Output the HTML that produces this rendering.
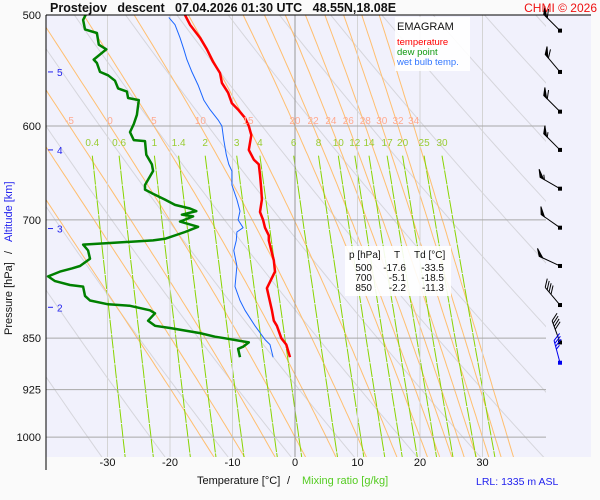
<!DOCTYPE html>
<html><head><meta charset="utf-8"><style>
body{margin:0;background:#fafafa;}
svg{display:block;font-family:"Liberation Sans",sans-serif;}
</style></head><body>
<svg id="chart" width="600" height="500" viewBox="0 0 600 500" xmlns="http://www.w3.org/2000/svg">
<defs><clipPath id="plotclip"><rect x="46" y="15" width="500" height="442"/></clipPath></defs>
<rect x="46" y="15" width="545" height="442" fill="#f1f1fc"/>
<g id="bg" clip-path="url(#plotclip)"></g>
<g id="grid"></g>
<g id="profiles" clip-path="url(#plotclip)"></g>
<g id="labels"></g>
<g id="winds"></g>
<line x1="46" y1="15" x2="46" y2="470" stroke="#000" stroke-width="1"/>
<line x1="46" y1="15" x2="591" y2="15" stroke="#000" stroke-width="1"/>
<text x="50" y="12" font-size="12.5" font-weight="bold" fill="#111" xml:space="preserve">Prostejov   descent   07.04.2026 01:30 UTC   48.55N,18.08E</text>
<text x="597" y="12" font-size="12" fill="#ee1111" text-anchor="end">CHMI © 2026</text>
<g>
<rect x="395" y="17" width="75" height="54" fill="#fff" opacity="0.9"/>
<text x="397" y="30" font-size="11" fill="#111">EMAGRAM</text>
<text x="397" y="45" font-size="9.5" fill="#ff0000">temperature</text>
<text x="397" y="55" font-size="9.5" fill="#119911">dew point</text>
<text x="397" y="65" font-size="9.5" fill="#3377ff">wet bulb temp.</text>
</g>
<g font-size="10" fill="#111">
<rect x="345" y="246" width="106" height="50" fill="#fff" opacity="0.9"/>
<text x="349" y="258">p [hPa]</text><text x="397" y="258" text-anchor="middle">T</text><text x="414" y="258">Td [°C]</text>
<text x="372" y="271" text-anchor="end">500</text><text x="406" y="271" text-anchor="end">-17.6</text><text x="444" y="271" text-anchor="end">-33.5</text>
<text x="372" y="281" text-anchor="end">700</text><text x="406" y="281" text-anchor="end">-5.1</text><text x="444" y="281" text-anchor="end">-18.5</text>
<text x="372" y="291" text-anchor="end">850</text><text x="406" y="291" text-anchor="end">-2.2</text><text x="444" y="291" text-anchor="end">-11.3</text>
</g>
<g font-size="11">
<text x="197" y="484" fill="#111">Temperature [°C]</text>
<text x="287" y="484" fill="#111">/</text>
<text x="302" y="484" fill="#55cc22">Mixing ratio [g/kg]</text>
</g>
<g font-size="11" transform="translate(12,260) rotate(-90)">
<text x="-75" y="0" fill="#111">Pressure [hPa]</text>
<text x="6" y="0" fill="#111">/</text>
<text x="18" y="0" fill="#2222ee">Altitude [km]</text>
</g>
<text x="476" y="485" font-size="10.5" fill="#2222ee">LRL: 1335 m ASL</text>
</svg>
<script>
// ---- data ----
const tempP = [500,508,519,529,540,550,559,568,578,584,592,600,609,624,634,639,650,666,677,691,700,709,718,724,736,748,762,783,812,826,833,850,859,877];
const tempT = [-17.6,-16.8,-15.2,-14.1,-13.1,-12.0,-11.7,-10.7,-10.1,-9.1,-8.0,-7.4,-7.0,-7.4,-6.6,-5.8,-5.6,-5.4,-5.3,-5.6,-5.1,-4.8,-4.2,-4.2,-3.8,-3.4,-3.2,-4.5,-3.7,-3.4,-2.9,-2.2,-1.4,-0.8];
const dewP = [500,504,512,515,525,529,538,541,549,552,557,564,567,573,575,589,598,606,614,615,629,639,646,661,666,670,677,683,687,690,694,696,702,708,714,722,724,727,729,736,746,755,758,762,768,774,779,781,793,799,804,806,812,816,826,833,836,843,848,850,856,862,865,877];
const dewT = [-33.5,-33.9,-33.6,-31.7,-31.4,-30.2,-32.2,-31.7,-31.2,-29.9,-28.8,-28.3,-26.9,-26.7,-25.0,-25.3,-25.8,-26.4,-25.8,-24.0,-23.8,-22.9,-22.7,-24.0,-24.0,-22.9,-20.8,-19.2,-16.8,-15.8,-18.1,-16.3,-18.4,-15.5,-17.6,-20.8,-22.7,-29.6,-33.9,-33.1,-32.8,-34.4,-35.7,-37.6,-39.5,-38.4,-36.0,-33.9,-33.6,-32.8,-29.9,-26.4,-23.2,-22.4,-23.5,-22.4,-20.0,-15.2,-12.8,-11.3,-7.4,-8.3,-9.1,-8.8];
const wbP = [502,508,519,529,538,549,561,575,584,594,600,614,629,639,646,661,677,690,700,709,714,724,736,755,781,799,812,833,852,859,877];
const wbT = [-20.2,-19.2,-18.4,-17.8,-17.3,-16.5,-15.5,-14.6,-13.6,-12.3,-11.7,-11.4,-11.0,-10.6,-10.1,-10.1,-9.3,-8.8,-9.1,-8.3,-9.3,-9.4,-9.8,-9.3,-9.6,-8.8,-8.0,-6.4,-4.8,-4.0,-3.5];
const windP = [513,549,586,624,665,709,755,805,856];
const windDir = [315,320,315,315,300,305,295,320,340];
const windSpd = [60,60,60,55,55,50,50,40,40];
const sfcWindP = [885];
const sfcWindDir = [345];
const sfcWindSpd = [35];
const pTicks = [500,600,700,850,925,1000];
const tTicks = [-30,-20,-10,0,10,20,30];
const altKm = [5,4,3,2];
const altP = [549,624,710,808];
const thetaW = [-15,-10,-5,0,5,10,15,20,22,24,26,28,30,32,34];
const thetaWLabels = [-5,0,5,10,15,20,22,24,26,28,30,32,34];
const mixR = [0.4,0.6,1,1.4,2,3,4,6,8,10,12,14,17,20,25,30];
const thetaDry = [240,250,260,270,280,290,300,310,320,330,340,350,360,370,380,390,400,410,420];

// ---- axes ----
const X = T => 295 + 6.25*T;
const Y = p => 15 + 609*Math.log(p/500);
const NS = "http://www.w3.org/2000/svg";
function mk(tag, parent, attrs){const e=document.createElementNS(NS,tag);for(const k in attrs)e.setAttribute(k,attrs[k]);parent.appendChild(e);return e;}
const bg=document.getElementById('bg'), grid=document.getElementById('grid'), prof=document.getElementById('profiles'), lab=document.getElementById('labels'), winds=document.getElementById('winds');

// dry adiabats
for(const th of thetaDry){
  let d='';
  for(let p=480;p<=1040;p+=10){const T=th*Math.pow(p/1000,0.286)-273.15;d+=(d?'L':'M')+X(T).toFixed(1)+','+Y(p).toFixed(1);}
  const el=mk('path',bg,{d:d,fill:'none',stroke:'#d6d6dc','stroke-width':1});
  
  
}
// moist adiabats
function es(T){return 6.112*Math.exp(17.67*T/(T+243.5));}
function moistPath(tw){
  const pts=[];let T=tw+273.15;
  const step=(p,T,dp)=>{const Tc=T-273.15;const rs=0.622*es(Tc)/(p-es(Tc));const Lv=2.5e6,Rd=287,Cp=1004;
    const g=(Rd*T+Lv*rs)/(Cp+Lv*Lv*rs*0.622/(Rd*T*T));return T+g*dp/p;};
  let t=T;for(let p=1000;p>=470;p-=5){pts.push([p,t]);t=step(p,t,-5);}
  pts.reverse();t=T;for(let p=1005;p<=1040;p+=5){t=step(p-5,t,5);pts.push([p,t]);}
  return pts;
}
const mPts={};
for(const tw of thetaW){
  const pts=moistPath(tw);mPts[tw]=pts;
  let d='';for(const [p,t] of pts)d+=(d?'L':'M')+X(t-273.15).toFixed(1)+','+Y(p).toFixed(1);
  const el=mk('path',bg,{d:d,fill:'none',stroke:'#ffbf70','stroke-width':1});
  
  
}
// mixing ratio
function tdFromW(w,p){const e=w*p/(622+w);const l=Math.log(e/6.112);return 243.5*l/(17.67-l);}
for(const w of mixR){
  let d='';for(let p=630;p<=1040;p+=10)d+=(d?'L':'M')+X(tdFromW(w,p)).toFixed(1)+','+Y(p).toFixed(1);
  const el=mk('path',bg,{d:d,fill:'none',stroke:'#88d400','stroke-width':1,'stroke-dasharray':'14,1'});
  
  
  const t=mk('text',lab,{x:X(tdFromW(w,630)).toFixed(1),y:146,'font-size':10,fill:'#99cc33','text-anchor':'middle'});
  t.textContent=w;
  
  
}
// moist labels
for(const tw of thetaWLabels){
  const pt=mPts[tw].find(a=>a[0]===600);
  const t=mk('text',lab,{x:(X(pt[1]-273.15)).toFixed(1),y:124,'font-size':10,fill:'#ffaa90','text-anchor':'middle'});
  t.textContent=tw;
  
  
}
// grid
for(const t of tTicks){
  const l=mk('line',grid,{x1:X(t),x2:X(t),y1:15,y2:457,stroke:t===0?'#999':'#d4d4d4','stroke-width':1});
  
  
  const tx=mk('text',grid,{x:X(t),y:466,'font-size':11,fill:'#111','text-anchor':'middle'});
  tx.textContent=t;
  
  
}
for(const p of pTicks){
  if(p!==500){const l=mk('line',grid,{x1:46,x2:546,y1:Y(p),y2:Y(p),stroke:'#a8a8a8','stroke-width':1});
  
  }
  const tx=mk('text',grid,{x:41,y:Y(p)+4,'font-size':11,fill:'#111','text-anchor':'end'});
  tx.textContent=p;
  
  
}
altKm.forEach((a,i)=>{
  const y=Y(altP[i]);
  const l=mk('line',grid,{x1:48,x2:53,y1:y,y2:y,stroke:'#2222ee','stroke-width':1});
  
  
  const tx=mk('text',grid,{x:57,y:y+4,'font-size':10,fill:'#2222ee'});
  tx.textContent=a;
  
  
});
// profiles
function line(P,T,color,w,name){
  let d='';P.forEach((p,i)=>{d+=(i?'L':'M')+X(T[i]).toFixed(1)+','+Y(p).toFixed(1);});
  const el=mk('path',prof,{d:d,fill:'none',stroke:color,'stroke-width':w,'stroke-linejoin':'round'});
  
  
}
line(wbP,wbT,'#1a66ff',1,'wet-bulb-line');
line(dewP,dewT,'#008000',2.5,'dew-point-line');
line(tempP,tempT,'#ff0000',2.5,'temperature-line');
// wind barbs
function barb(p,dir,spd,color){
  const g=mk('g',winds,{stroke:color,fill:color,'stroke-width':1});
  
  
  const x0=560,y0=Y(p),L=23,r=dir*Math.PI/180;
  const ux=Math.sin(r),uy=-Math.cos(r);
  const x1=x0+ux*L,y1=y0+uy*L;
  mk('line',g,{x1:x0,y1:y0,x2:x1,y2:y1});
  mk('rect',g,{x:x0-2,y:y0-2,width:4,height:4,stroke:'none'});
  // feather direction: clockwise perpendicular, tilted toward the tip
  const fx=(-uy)*0.8+ux*0.6, fy=ux*0.8+uy*0.6;
  let s=spd,pos=0;
  while(s>=50){const bx=x1-ux*pos,by=y1-uy*pos;
    mk('polygon',g,{points:`${bx},${by} ${bx+fx*8},${by+fy*8} ${bx-ux*4},${by-uy*4}`});pos+=5;s-=50;}
  while(s>=10){const bx=x1-ux*pos,by=y1-uy*pos;mk('line',g,{x1:bx,y1:by,x2:bx+fx*9,y2:by+fy*9});pos+=3;s-=10;}
  if(s>=5){const bx=x1-ux*pos,by=y1-uy*pos;mk('line',g,{x1:bx,y1:by,x2:bx+fx*5,y2:by+fy*5});}
}
windP.forEach((p,i)=>barb(p,windDir[i],windSpd[i],'#000'));
sfcWindP.forEach((p,i)=>barb(p,sfcWindDir[i],sfcWindSpd[i],'#0000ee'));
</script>
</body></html>
